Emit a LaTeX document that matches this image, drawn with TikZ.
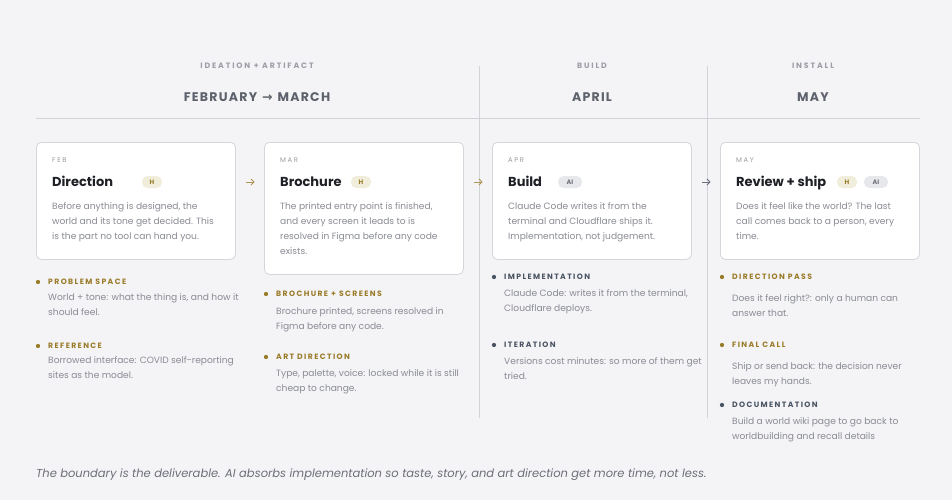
\documentclass[tikz,border=0pt]{standalone}
\usepackage{fontspec}
\setmainfont{Poppins}
\newfontfamily\capsfont[LetterSpace=10]{Poppins}
\newfontfamily\headfont[LetterSpace=18]{Poppins}
\newfontfamily\widefont[LetterSpace=24]{Poppins}
\newfontfamily\symfont{DejaVu Sans}
\usetikzlibrary{arrows.meta,calc}

\definecolor{paper}{HTML}{F4F4F7}
\definecolor{rulegray}{HTML}{D2D3D9}
\definecolor{cardedge}{HTML}{D5D6DB}
\definecolor{phasegray}{HTML}{9C9DA6}
\definecolor{monthgray}{HTML}{5D616B}
\definecolor{ink}{HTML}{1F2026}
\definecolor{taggray}{HTML}{9A9BA3}
\definecolor{bodygray}{HTML}{8A8C94}
\definecolor{gold}{HTML}{9A7B28}
\definecolor{goldfill}{HTML}{F1EDDB}
\definecolor{slate}{HTML}{4A5462}
\definecolor{aifill}{HTML}{E7E8EC}
\definecolor{aitext}{HTML}{6E717B}
\definecolor{footgray}{HTML}{6C6F78}

\tikzset{
  rule/.style={draw=rulegray, line width=0.8pt},
  card/.style={draw=cardedge, fill=white, rounded corners=5pt, line width=0.8pt,
    minimum width=199pt, anchor=north west, inner sep=0},
  phase/.style={font=\widefont\bfseries\fontsize{7.8}{9}\selectfont, text=phasegray, inner sep=0},
  month/.style={font=\capsfont\bfseries\fontsize{12.5}{14}\selectfont, text=monthgray, inner sep=0},
  tag/.style={font=\widefont\fontsize{6.8}{8}\selectfont, text=taggray, anchor=west, inner sep=0},
  ttl/.style={font=\bfseries\fontsize{13}{15}\selectfont, text=ink, anchor=base west,
    yshift=-4.8pt, inner sep=0},
  body/.style={font=\fontsize{9.1}{15}\selectfont, text=bodygray, anchor=north west,
    align=left, yshift=3.6pt, inner sep=0},
  badge/.style={rounded corners=5.5pt, minimum height=12pt, inner sep=0,
    font=\bfseries\fontsize{6.4}{7}\selectfont},
  hbadge/.style={badge, fill=goldfill, text=gold, minimum width=20pt},
  aibadge/.style={badge, fill=aifill, text=aitext, minimum width=24pt},
  head/.style={font=\headfont\bfseries\fontsize{7.7}{8}\selectfont, text=#1, anchor=west, inner sep=0},
  dot/.style={circle, fill=#1, inner sep=0, minimum size=4.3pt},
  flow/.style={draw=#1, line width=0.8pt, -{Straight Barb[length=3pt,width=6pt]},
    shorten <=10pt, shorten >=9.5pt}
}

\begin{document}
\begin{tikzpicture}[x=1pt, y=-1pt]
  \fill[paper] (0,0) rectangle (952,500);
  \useasboundingbox (0,0) rectangle (952,500);

  % phase headers over the columns
  \foreach \n/\x/\p/\m in {a/257/IDEATION + ARTIFACT/{FEBRUARY\hspace{5pt}{\symfont →}\hspace{5pt}MARCH},
                          b/592/BUILD/APRIL, c/813/INSTALL/MAY}
  {
    \node[phase] (phase-\n) at (\x,66) {\p};
    \node[month] (month-\n) at (\x,97) {\m};
  }
  \coordinate (rule-l) at (36,118);
  \coordinate (rule-r) at (920,118);
  \draw[rule] (rule-l) -- (rule-r);
  \foreach \x in {479,707} \draw[rule] (\x,66) -- (\x,418);

  % cards
  \node[card, minimum height=117pt] (c1) at (36,142) {};
  \node[card, minimum height=132pt] (c2) at (264,142) {};
  \node[card, minimum height=117pt] (c3) at (492,142) {};
  \node[card, minimum height=117pt] (c4) at (720,142) {};

  \foreach \i/\x/\m/\t in {1/52/FEB/Direction, 2/280/MAR/Brochure, 3/508/APR/Build, 4/736/MAY/Review + ship}
  {
    \node[tag] (c\i-tag) at (\x,160) {\m};
    \node[ttl] (c\i-ttl) at (\x,182) {\t};
  }
  \node[hbadge] (c1-h) at (152,182) {H};
  \node[hbadge] (c2-h) at (361,182) {H};
  \node[aibadge] (c3-ai) at (570,182) {AI};
  \node[hbadge] (c4-h) at (847,182) {H};
  \node[aibadge] (c4-ai) at (876,182) {AI};

  \node[body] (c1-txt) at (52,206) {Before anything is designed, the\\world and its tone get decided. This\\is the part no tool can hand you.};
  \node[body] (c2-txt) at (280,206) {The printed entry point is finished,\\and every screen it leads to is\\resolved in Figma before any code\\exists.};
  \node[body] (c3-txt) at (508,206) {Claude Code writes it from the\\terminal and Cloudflare ships it.\\Implementation, not judgement.};
  \node[body] (c4-txt) at (736,206) {Does it feel like the world? The last\\call comes back to a person, every\\time.};

  % hand-offs between the cards
  \draw[flow=gold!80] ($(c1.north east)+(0,40)$) -- ($(c2.north west)+(0,40)$);
  \draw[flow=gold!80] ($(c2.north east)+(0,40)$) -- ($(c3.north west)+(0,40)$);
  \draw[flow=aitext] ($(c3.north east)+(0,40)$) -- ($(c4.north west)+(0,40)$);

  % notes under each card
  \foreach \n/\x/\y/\yt/\c/\h/\t in {
    pa/38/282/297/gold/PROBLEM SPACE/{World + tone: what the thing is, and how it\\should feel.},
    re/38/346/360/gold/REFERENCE/{Borrowed interface: COVID self-reporting\\sites as the model.},
    bs/266/294/311/gold/BROCHURE + SCREENS/{Brochure printed, screens resolved in\\Figma before any code.},
    ad/266/357/373/gold/ART DIRECTION/{Type, palette, voice: locked while it is still\\cheap to change.},
    im/494/277/293/slate/IMPLEMENTATION/{Claude Code: writes it from the terminal,\\Cloudflare deploys.},
    it/494/345/361/slate/ITERATION/{Versions cost minutes: so more of them get\\tried.},
    dp/722/277/298/gold/DIRECTION PASS/{Does it feel right?: only a human can\\answer that.},
    fc/722/345/366/gold/FINAL CALL/{Ship or send back: the decision never\\leaves my hands.},
    do/722/405/421/slate/DOCUMENTATION/{Build a world wiki page to go back to\\worldbuilding and recall details}}
  {
    \node[dot=\c] (\n-dot) at (\x,\y) {};
    \node[head=\c] (\n-head) at (\x+10,\y) {\h};
    \node[body] (\n-txt) at (\x+10,\yt) {\t};
  }

  \node[font=\itshape\fontsize{11.5}{13}\selectfont, text=footgray, anchor=west, inner sep=0] (foot) at (36,475)
    {The boundary is the deliverable. AI absorbs implementation so taste, story, and art direction get more time, not less.};
\end{tikzpicture}
\end{document}
